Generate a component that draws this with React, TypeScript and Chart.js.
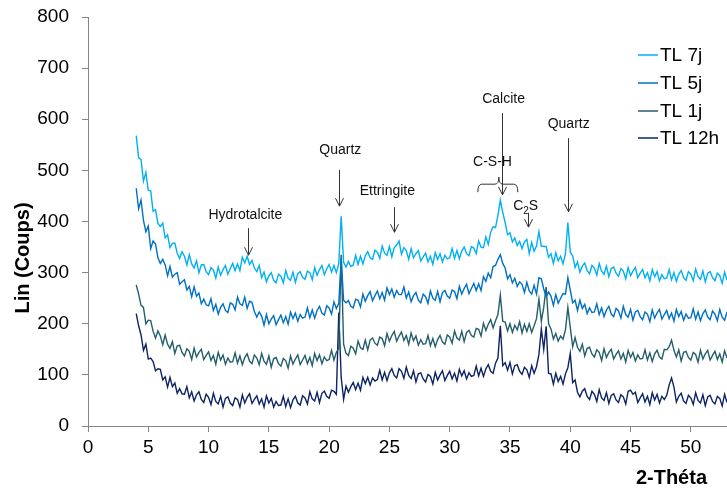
import React, { useEffect, useRef } from "react";
import { Chart, registerables } from "chart.js";

Chart.register(...registerables);

// 2-theta grid: first angle and step (degrees)
const X_START = 4;
const X_STEP = 0.2;

const SERIES_LABELS = ["TL 7j", "TL 5j", "TL 1j", "TL 12h"];
const SERIES_COLORS = ["#00B0F0", "#0070C0", "#245E6C", "#0C2464"];

const TL_7J = [
  568, 525, 521, 479, 496, 461, 460, 420, 423, 396,
  390, 397, 368, 374, 349, 357, 358, 338, 328, 341,
  332, 315, 335, 317, 309, 323, 300, 315, 316, 302,
  296, 310, 305, 289, 311, 295, 306, 314, 297, 308,
  318, 304, 317, 304, 330, 319, 332, 316, 324, 309,
  302, 314, 290, 301, 282, 294, 300, 285, 280, 297,
  293, 280, 304, 289, 285, 301, 281, 298, 302, 291,
  287, 303, 300, 286, 310, 295, 306, 314, 296, 307,
  316, 301, 314, 300, 318, 410, 320, 311, 322, 312,
  315, 334, 316, 332, 317, 333, 341, 329, 326, 344,
  340, 328, 352, 338, 334, 351, 331, 349, 354, 362,
  336, 349, 343, 326, 347, 329, 337, 343, 323, 331,
  338, 321, 332, 316, 339, 326, 337, 321, 334, 327,
  329, 347, 328, 343, 327, 342, 350, 337, 333, 351,
  348, 337, 362, 350, 349, 370, 355, 379, 390, 388,
  412, 442, 418, 398, 374, 378, 360, 368, 353, 361,
  347, 360, 365, 337, 359, 342, 352, 380, 352, 351,
  351, 330, 337, 318, 339, 323, 332, 317, 337, 398,
  340, 333, 310, 321, 301, 313, 319, 304, 298, 314,
  309, 295, 318, 303, 297, 313, 292, 308, 311, 299,
  293, 308, 303, 288, 310, 294, 303, 310, 290, 299,
  306, 290, 300, 284, 306, 292, 302, 284, 296, 288,
  289, 306, 286, 300, 283, 297, 304, 290, 285, 302,
  297, 284, 307, 292, 287, 303, 282, 299, 302, 290,
  284, 299, 294, 279, 301, 285,
];

const TL_5J = [
  465, 425, 442, 402, 380, 391, 347, 362, 356, 329,
  318, 326, 315, 294, 312, 291, 297, 300, 277, 282,
  286, 266, 273, 253, 272, 254, 260, 239, 248, 237,
  235, 249, 226, 238, 219, 232, 239, 226, 222, 241,
  238, 227, 252, 239, 236, 252, 230, 244, 242, 224,
  213, 223, 215, 197, 218, 200, 209, 216, 198, 208,
  217, 202, 214, 199, 223, 210, 221, 205, 218, 211,
  213, 231, 212, 227, 211, 226, 234, 221, 217, 235,
  231, 219, 243, 230, 240, 328, 246, 241, 245, 234,
  231, 248, 246, 233, 258, 244, 255, 263, 245, 255,
  264, 249, 261, 246, 270, 257, 268, 252, 265, 257,
  257, 272, 250, 262, 243, 255, 261, 246, 241, 258,
  253, 240, 264, 250, 246, 263, 243, 261, 265, 254,
  250, 266, 263, 249, 273, 258, 269, 277, 259, 269,
  279, 265, 278, 265, 292, 283, 299, 290, 312, 314,
  326, 335, 318, 309, 288, 296, 280, 289, 273, 282,
  277, 261, 281, 264, 258, 275, 258, 290, 288, 268,
  253, 262, 254, 236, 257, 240, 250, 259, 258, 290,
  266, 241, 246, 226, 246, 230, 238, 220, 231, 222,
  223, 239, 218, 231, 214, 227, 234, 219, 214, 230,
  225, 211, 234, 218, 213, 228, 207, 223, 226, 214,
  208, 223, 219, 204, 227, 211, 221, 228, 209, 218,
  226, 210, 221, 205, 228, 214, 224, 207, 219, 211,
  212, 229, 209, 223, 206, 220, 227, 213, 208, 225,
  219, 206, 228, 213, 207, 223,
];

const TL_1J = [
  276, 258, 236, 232, 200, 207, 206, 185, 172, 186,
  176, 159, 178, 160, 152, 165, 142, 157, 158, 144,
  137, 151, 146, 130, 152, 135, 144, 150, 130, 138,
  145, 128, 138, 121, 144, 129, 139, 121, 133, 125,
  126, 143, 123, 137, 120, 134, 141, 127, 122, 139,
  133, 120, 142, 127, 121, 137, 115, 132, 134, 122,
  117, 132, 128, 113, 137, 121, 131, 139, 120, 129,
  138, 122, 134, 118, 142, 128, 139, 122, 135, 128,
  130, 148, 129, 144, 152, 335, 160, 142, 138, 156,
  152, 141, 166, 153, 150, 168, 149, 168, 172, 162,
  158, 174, 171, 157, 181, 166, 177, 185, 166, 176,
  184, 167, 177, 160, 182, 167, 176, 158, 169, 160,
  161, 177, 157, 171, 155, 169, 177, 164, 160, 178,
  174, 162, 186, 172, 168, 185, 165, 183, 187, 177,
  174, 191, 189, 176, 201, 187, 199, 208, 192, 206,
  218, 256, 205, 203, 186, 200, 183, 197, 188, 204,
  182, 199, 185, 200, 183, 196, 210, 248, 205, 232,
  272, 200, 190, 170, 181, 166, 176, 170, 188, 232,
  193, 155, 173, 154, 146, 160, 137, 152, 154, 141,
  135, 149, 144, 128, 151, 134, 144, 150, 131, 140,
  147, 131, 142, 125, 148, 134, 144, 127, 139, 131,
  132, 149, 129, 143, 126, 141, 148, 135, 131, 150,
  149, 155, 168, 148, 135, 149, 127, 144, 146, 134,
  129, 144, 140, 125, 148, 131, 141, 148, 129, 138,
  146, 130, 141, 125, 147, 133,
];

const TL_12H = [
  220, 196, 178, 148, 160, 131, 133, 126, 108, 112,
  111, 90, 96, 76, 95, 77, 84, 64, 73, 63,
  62, 77, 55, 67, 49, 61, 67, 52, 46, 62,
  56, 42, 64, 48, 43, 58, 37, 54, 57, 45,
  40, 55, 52, 37, 61, 45, 56, 63, 44, 52,
  59, 43, 53, 37, 59, 45, 54, 37, 48, 40,
  41, 58, 38, 53, 36, 51, 58, 45, 41, 59,
  55, 43, 67, 53, 49, 66, 46, 64, 68, 58,
  54, 70, 68, 62, 222, 95, 52, 78, 66, 77,
  85, 71, 84, 70, 95, 83, 95, 80, 94, 88,
  91, 109, 90, 105, 89, 104, 112, 99, 94, 112,
  107, 93, 115, 99, 93, 108, 86, 102, 104, 92,
  86, 101, 97, 82, 105, 90, 100, 108, 89, 99,
  107, 92, 103, 88, 111, 98, 108, 92, 104, 97,
  99, 117, 98, 113, 97, 112, 120, 107, 103, 123,
  133, 196, 118, 124, 109, 124, 102, 118, 120, 107,
  101, 115, 110, 95, 118, 103, 116, 140, 190, 150,
  195, 103, 102, 82, 103, 87, 97, 82, 102, 114,
  142, 85, 90, 66, 57, 68, 73, 58, 52, 68,
  62, 48, 71, 55, 50, 65, 44, 60, 63, 51,
  46, 61, 57, 43, 68, 70, 62, 66, 46, 55,
  63, 47, 58, 42, 65, 51, 62, 45, 58, 52,
  60, 80, 94, 76, 47, 58, 64, 49, 44, 60,
  55, 42, 65, 50, 45, 61, 40, 57, 60, 48,
  43, 58, 54, 39, 62, 46,
];

const X_TICKS = [0, 5, 10, 15, 20, 25, 30, 35, 40, 45, 50];
const Y_TICKS = [0, 100, 200, 300, 400, 500, 600, 700, 800];
const X_MIN = 0;
const X_MAX = 53;
const Y_MIN = 0;
const Y_MAX = 800;

const X_TITLE = "2-Théta";
const Y_TITLE = "Lin (Coups)";

// Phase labels (2-theta, counts) and arrows (2-theta, from counts, to counts)
const PHASE_LABELS = [
  { text: "Hydrotalcite", x: 13.05, y: 413 },
  { text: "Quartz", x: 20.93, y: 540 },
  { text: "Ettringite", x: 24.83, y: 460 },
  { text: "Calcite", x: 34.47, y: 640 },
  { text: "C-S-H", x: 33.55, y: 516 },
  { text: "C|2|S", x: 36.3, y: 430 },
  { text: "Quartz", x: 39.87, y: 591 },
];
const PHASE_ARROWS = [
  { x: 13.29, from: 387, to: 334 },
  { x: 20.85, from: 501, to: 430 },
  { x: 25.42, from: 428, to: 379 },
  { x: 34.3, from: 612, to: 452 },
  { x: 36.46, from: 417, to: 389 },
  { x: 39.78, from: 563, to: 419 },
];
const CSH_BRACE = { x1: 32.33, x2: 35.65, cusp: 34.08, y: 473 };

const FONT = '"Liberation Sans", Arial, sans-serif';

function toPoints(values: number[]) {
  return values.map((v, i) => ({ x: +(X_START + i * X_STEP).toFixed(2), y: v }));
}

const overlayPlugin = {
  id: "xrdOverlay",
  afterDatasetsDraw(chart: any) {
    const { ctx, scales } = chart;
    const xs = scales.x;
    const ys = scales.y;
    ctx.save();

    // phase labels
    ctx.fillStyle = "#111";
    ctx.textBaseline = "middle";
    for (const l of PHASE_LABELS) {
      const px = xs.getPixelForValue(l.x);
      const py = ys.getPixelForValue(l.y);
      if (l.text.includes("|")) {
        const [a, b, c] = l.text.split("|");
        ctx.font = `14px ${FONT}`;
        const wa = ctx.measureText(a).width;
        const wc = ctx.measureText(c).width;
        ctx.font = `10px ${FONT}`;
        const wb = ctx.measureText(b).width;
        let sx = px - (wa + wb + wc) / 2;
        ctx.textAlign = "left";
        ctx.font = `14px ${FONT}`;
        ctx.fillText(a, sx, py);
        sx += wa;
        ctx.font = `10px ${FONT}`;
        ctx.fillText(b, sx, py + 5);
        sx += wb;
        ctx.font = `14px ${FONT}`;
        ctx.fillText(c, sx, py);
      } else {
        ctx.font = `14px ${FONT}`;
        ctx.textAlign = "center";
        ctx.fillText(l.text, px, py);
      }
    }

    // arrows
    ctx.strokeStyle = "#333";
    ctx.lineWidth = 1;
    for (const a of PHASE_ARROWS) {
      const px = Math.round(xs.getPixelForValue(a.x)) + 0.5;
      const y1 = ys.getPixelForValue(a.from);
      const y2 = ys.getPixelForValue(a.to);
      ctx.beginPath();
      ctx.moveTo(px, y1);
      ctx.lineTo(px, y2);
      ctx.moveTo(px - 4, y2 - 8);
      ctx.lineTo(px, y2);
      ctx.lineTo(px + 4, y2 - 8);
      ctx.stroke();
    }

    // C-S-H brace
    const bl = xs.getPixelForValue(CSH_BRACE.x1);
    const br = xs.getPixelForValue(CSH_BRACE.x2);
    const bc = xs.getPixelForValue(CSH_BRACE.cusp);
    const by = ys.getPixelForValue(CSH_BRACE.y);
    ctx.beginPath();
    ctx.moveTo(bl, by + 8);
    ctx.quadraticCurveTo(bl, by, bl + 4, by);
    ctx.lineTo(bc - 4, by);
    ctx.quadraticCurveTo(bc, by, bc, by - 7);
    ctx.quadraticCurveTo(bc, by, bc + 4, by);
    ctx.lineTo(br - 4, by);
    ctx.quadraticCurveTo(br, by, br, by + 8);
    ctx.stroke();

    // legend
    ctx.font = `19px ${FONT}`;
    ctx.textAlign = "left";
    ctx.textBaseline = "middle";
    const legendY = [55, 83, 111, 138];
    chart.data.datasets.forEach((ds: any, i: number) => {
      const ly = legendY[i];
      ctx.strokeStyle = ds.borderColor;
      ctx.lineWidth = 1.5;
      ctx.beginPath();
      ctx.moveTo(638, ly);
      ctx.lineTo(658, ly);
      ctx.stroke();
      ctx.fillStyle = "#000";
      ctx.fillText(ds.label, 660, ly + 1);
    });

    // axis titles
    ctx.fillStyle = "#000";
    ctx.font = `bold 20px ${FONT}`;
    ctx.textAlign = "right";
    ctx.textBaseline = "middle";
    ctx.fillText(X_TITLE, 707, 478);
    ctx.save();
    ctx.translate(23, 258);
    ctx.rotate(-Math.PI / 2);
    ctx.textAlign = "center";
    ctx.fillText(Y_TITLE, 0, 0);
    ctx.restore();

    ctx.restore();
  },
};

export default function App() {
  const ref = useRef<HTMLCanvasElement | null>(null);

  useEffect(() => {
    if (!ref.current) return;
    const series = [TL_7J, TL_5J, TL_1J, TL_12H];
    const chart = new Chart(ref.current, {
      type: "line",
      data: {
        datasets: series.map((s, i) => ({
          label: SERIES_LABELS[i],
          data: toPoints(s),
          borderColor: SERIES_COLORS[i],
          backgroundColor: SERIES_COLORS[i],
          borderWidth: 1.4,
          pointRadius: 0,
          tension: 0,
          fill: false,
        })),
      },
      options: {
        animation: false,
        responsive: true,
        maintainAspectRatio: false,
        layout: { padding: { top: 17, right: 0, bottom: 0, left: 0 } },
        plugins: {
          legend: { display: false },
          tooltip: { enabled: false },
          title: { display: false },
        },
        scales: {
          x: {
            type: "linear",
            min: X_MIN,
            max: X_MAX,
            afterBuildTicks: (s: any) => {
              s.ticks = X_TICKS.map((v) => ({ value: v }));
            },
            afterFit: (s: any) => {
              s.height = 62;
              s.paddingLeft = 0;
              s.paddingRight = 0;
            },
            ticks: {
              font: { family: FONT, size: 19 },
              color: "#000",
              padding: 4,
              maxRotation: 0,
              autoSkip: false,
            },
            grid: { drawOnChartArea: false, drawTicks: true, tickLength: 6, color: "#868686" },
            border: { color: "#868686", width: 1 },
          },
          y: {
            type: "linear",
            min: Y_MIN,
            max: Y_MAX,
            afterBuildTicks: (s: any) => {
              s.ticks = Y_TICKS.map((v) => ({ value: v }));
            },
            afterFit: (s: any) => {
              s.width = 88;
              s.paddingTop = 0;
              s.paddingBottom = 0;
            },
            ticks: {
              font: { family: FONT, size: 19 },
              color: "#000",
              padding: 13,
              autoSkip: false,
            },
            grid: { drawOnChartArea: false, drawTicks: true, tickLength: 6, color: "#868686" },
            border: { color: "#868686", width: 1 },
          },
        },
      },
      plugins: [overlayPlugin],
    });
    return () => chart.destroy();
  }, []);

  return (
    <div style={{ position: "fixed", left: 0, top: 0, width: 727, height: 488, background: "#fff" }}>
      <canvas ref={ref} />
    </div>
  );
}
